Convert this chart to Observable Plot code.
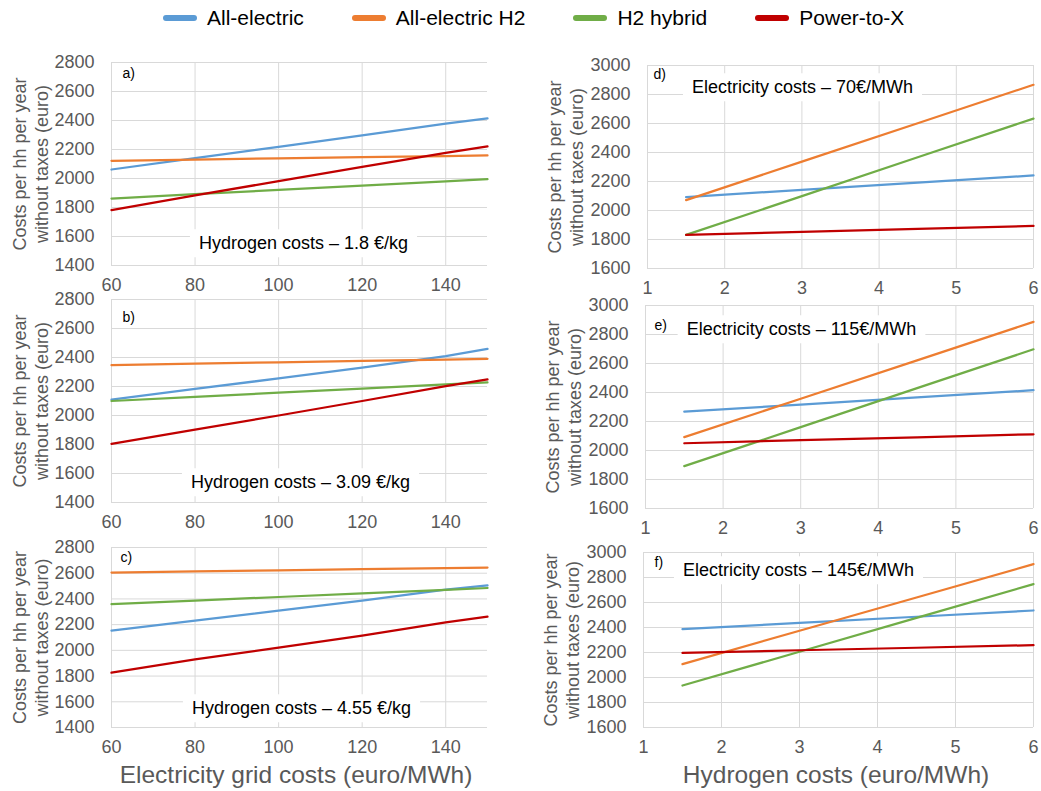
<!DOCTYPE html>
<html>
<head>
<meta charset="utf-8">
<script src="https://cdn.jsdelivr.net/npm/d3@7"></script>
<script src="https://cdn.jsdelivr.net/npm/@observablehq/plot@0.6"></script>
<style>
  html, body { margin: 0; padding: 0; background: #ffffff; }
  #wrap { position: relative; width: 1041px; height: 791px; overflow: hidden; background: #fff;
          font-family: "Liberation Sans", Arial, sans-serif; }
  .panel { position: absolute; }
  #legend { position: absolute; left: 163px; top: 6px; display: flex; align-items: center;
            font-size: 21px; color: #000; white-space: nowrap; }
  #legend .item { display: flex; align-items: center; margin-right: 48px; }
  #legend .sw { width: 34px; height: 6px; border-radius: 3px; margin-right: 10px; }
  .xtitle { position: absolute; top: 761px; font-size: 24.5px; color: #595959; white-space: nowrap;
            transform: translateX(-50%); }
</style>
</head>
<body>
<div id="wrap"></div>
<script>
// ---------------- data ----------------
const seriesNames  = ["All-electric", "All-electric H2", "H2 hybrid", "Power-to-X"];
const seriesColors = ["#5b9bd5", "#ed7d31", "#70ad47", "#c00000"];

// left column: x = electricity grid costs (euro/MWh)
const gridCosts = [60, 80, 100, 120, 140, 150];
// right column: x = hydrogen costs
const hydrogenCosts = [1.5, 3, 4.5, 6];

// rows follow seriesNames order: All-electric, All-electric H2, H2 hybrid, Power-to-X
const panelA = [
  [2062, 2140, 2218, 2298, 2378, 2414],
  [2122, 2130, 2139, 2147, 2155, 2159],
  [1862, 1892, 1921, 1951, 1980, 1995],
  [1782, 1883, 1982, 2080, 2177, 2222]
];
const panelB = [
  [2110, 2183, 2256, 2330, 2410, 2460],
  [2347, 2357, 2367, 2377, 2386, 2391],
  [2100, 2128, 2157, 2185, 2214, 2228],
  [1805, 1902, 2000, 2100, 2202, 2249]
];
const panelC = [
  [2153, 2231, 2309, 2387, 2472, 2506],
  [2605, 2614, 2622, 2631, 2640, 2644],
  [2359, 2387, 2415, 2443, 2471, 2485],
  [1826, 1929, 2021, 2115, 2218, 2262]
];
const panelD = [
  [2092, 2143, 2192, 2242],
  [2072, 2337, 2602, 2867],
  [1832, 2099, 2367, 2634],
  [1832, 1853, 1873, 1894]
];
const panelE = [
  [2268, 2316, 2366, 2416],
  [2092, 2357, 2622, 2887],
  [1892, 2161, 2430, 2698],
  [2050, 2071, 2091, 2112]
];
const panelF = [
  [2387, 2437, 2486, 2536],
  [2107, 2374, 2640, 2907],
  [1936, 2206, 2477, 2747],
  [2197, 2218, 2238, 2259]
];

const leftXTicks  = [60, 80, 100, 120, 140];
const leftYTicks  = [1400, 1600, 1800, 2000, 2200, 2400, 2600, 2800];
const rightXTicks = [1, 2, 3, 4, 5, 6];
const rightYTicks = [1600, 1800, 2000, 2200, 2400, 2600, 2800, 3000];
const leftXDomain  = [60, 150];
const leftYDomain  = [1400, 2800];
const rightXDomain = [1, 6];
const rightYDomain = [1600, 3000];

const panelLetters = ["a)", "b)", "c)", "d)", "e)", "f)"];
const panelNotes = [
  "Hydrogen costs \u2013 1.8 \u20ac/kg",
  "Hydrogen costs \u2013 3.09 \u20ac/kg",
  "Hydrogen costs \u2013 4.55 \u20ac/kg",
  "Electricity costs \u2013 70\u20ac/MWh",
  "Electricity costs \u2013 115\u20ac/MWh",
  "Electricity costs \u2013 145\u20ac/MWh"
];
const yTitle = "Costs per hh per year\nwithout taxes (euro)";
const xTitles = ["Electricity grid costs (euro/MWh)", "Hydrogen costs (euro/MWh)"];

// ---------------- layout ----------------
const FONT = "'Liberation Sans', Arial, sans-serif";
const panels = [
  {values: panelA, xs: gridCosts, side: "L", left: 0,   plotTop: 62,  plotH: 203, mL: 111, width: 500, letterDx: 11, letterDy: 11, noteAnchor: "bottom", noteDx: 4,   noteDy: -22},
  {values: panelB, xs: gridCosts, side: "L", left: 0,   plotTop: 299, plotH: 203, mL: 111, width: 500, letterDx: 11, letterDy: 18, noteAnchor: "bottom", noteDx: 1,   noteDy: -20},
  {values: panelC, xs: gridCosts, side: "L", left: 0,   plotTop: 547, plotH: 180, mL: 111, width: 500, letterDx: 9,  letterDy: 10, noteAnchor: "bottom", noteDx: 2,   noteDy: -19},
  {values: panelD, xs: hydrogenCosts, side: "R", left: 520, plotTop: 65,  plotH: 203, mL: 127, width: 521, letterDx: 6,  letterDy: 9,  noteAnchor: "top", noteDx: -38, noteDy: 22},
  {values: panelE, xs: hydrogenCosts, side: "R", left: 520, plotTop: 305, plotH: 203, mL: 125, width: 521, letterDx: 9,  letterDy: 20, noteAnchor: "top", noteDx: -38, noteDy: 24},
  {values: panelF, xs: hydrogenCosts, side: "R", left: 520, plotTop: 552, plotH: 175, mL: 123, width: 521, letterDx: 11, letterDy: 10, noteAnchor: "top", noteDx: -40, noteDy: 18}
];

const wrap = document.getElementById("wrap");

// legend
const legend = document.createElement("div");
legend.id = "legend";
seriesNames.forEach((name, i) => {
  const item = document.createElement("div");
  item.className = "item";
  const sw = document.createElement("span");
  sw.className = "sw";
  sw.style.background = seriesColors[i];
  const tx = document.createElement("span");
  tx.textContent = name;
  item.appendChild(sw);
  item.appendChild(tx);
  legend.appendChild(item);
});
wrap.appendChild(legend);

panels.forEach((p, idx) => {
  const isL = p.side === "L";
  const rows = [];
  p.values.forEach((vals, si) => vals.forEach((v, i) => rows.push({x: p.xs[i], y: v, series: seriesNames[si]})));
  const mT = 14, mB = 34;
  const xTicks = isL ? leftXTicks : rightXTicks;
  const yTicks = isL ? leftYTicks : rightYTicks;
  const svg = Plot.plot({
    width: p.width,
    height: mT + p.plotH + mB,
    marginTop: mT,
    marginBottom: mB,
    marginLeft: p.mL,
    marginRight: isL ? 13 : 8,
    style: {background: "transparent", color: "#595959", fontSize: "18px", fontFamily: FONT, overflow: "visible"},
    x: {domain: isL ? leftXDomain : rightXDomain, label: null},
    y: {domain: isL ? leftYDomain : rightYDomain, label: null},
    color: {domain: seriesNames, range: seriesColors},
    marks: [
      Plot.gridX(xTicks, {stroke: "#d9d9d9", strokeOpacity: 1, strokeWidth: 1}),
      Plot.gridY(yTicks, {stroke: "#d9d9d9", strokeOpacity: 1, strokeWidth: 1}),
      Plot.axisX(xTicks, {tickSize: 0, tickPadding: 13, label: null, tickFormat: d => String(d)}),
      Plot.axisY(yTicks, {tickSize: 0, tickPadding: 17, label: null, tickFormat: d => String(d)}),
      Plot.line(rows, {x: "x", y: "y", z: "series", stroke: "series", strokeWidth: 2.25}),
      Plot.text([panelNotes[idx]], {frameAnchor: p.noteAnchor, dx: p.noteDx, dy: p.noteDy, lineAnchor: "middle", fill: "#000", fontSize: 18}),
      Plot.text([panelLetters[idx]], {frameAnchor: "top-left", dx: p.letterDx, dy: p.letterDy, lineAnchor: "middle", fill: "#000", fontSize: 14, textAnchor: "start"}),
      Plot.text([yTitle], {frameAnchor: "left", dx: isL ? -82 : -83, rotate: -90, textAnchor: "middle", lineAnchor: "middle", fill: "#595959", fontSize: 18, lineHeight: 1.22})
    ]
  });
  svg.classList.add("panel");
  svg.style.left = p.left + "px";
  svg.style.top = (p.plotTop - mT) + "px";
  wrap.appendChild(svg);

  // white box behind the note text (like the chart's text box)
  svg.querySelectorAll("text").forEach(t => {
    if (t.textContent === panelNotes[idx]) {
      const bb = t.getBBox();
      const r = document.createElementNS("http://www.w3.org/2000/svg", "rect");
      r.setAttribute("x", bb.x - 9);
      r.setAttribute("y", bb.y - 4);
      r.setAttribute("width", bb.width + 18);
      r.setAttribute("height", bb.height + 8);
      r.setAttribute("fill", "#fff");
      if (t.getAttribute("transform")) r.setAttribute("transform", t.getAttribute("transform"));
      t.parentNode.insertBefore(r, t);
    }
  });
});

// x-axis titles
[[296, xTitles[0]], [836, xTitles[1]]].forEach(([cx, txt]) => {
  const d = document.createElement("div");
  d.className = "xtitle";
  d.style.left = cx + "px";
  d.textContent = txt;
  wrap.appendChild(d);
});
</script>
</body>
</html>
